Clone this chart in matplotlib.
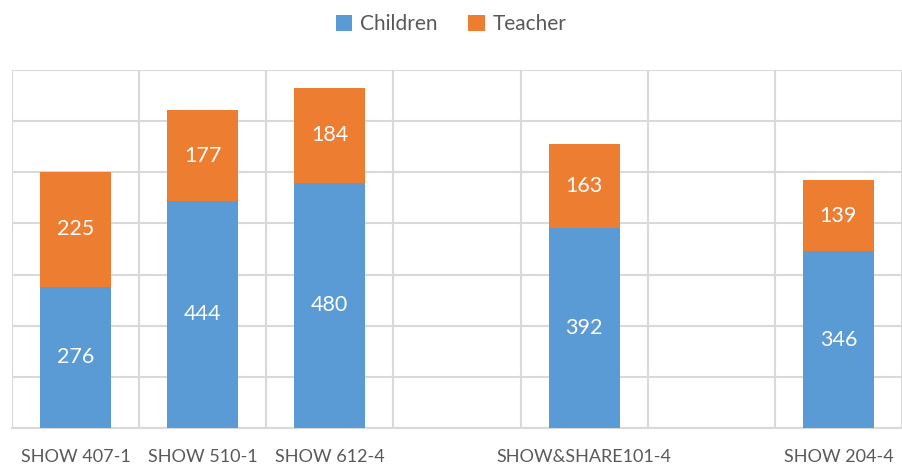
import numpy as np
import matplotlib.pyplot as plt

# Categories (blank slots are empty positions in the original chart)
categories = ['SHOW 407-1', 'SHOW 510-1', 'SHOW 612-4', '', 'SHOW&SHARE101-4', '', 'SHOW 204-4']
children = [276, 444, 480, np.nan, 392, np.nan, 346]
teacher = [225, 177, 184, np.nan, 163, np.nan, 139]

plt.rcParams['font.family'] = ['Lato', 'DejaVu Sans']

fig = plt.figure(figsize=(9.02, 4.67), dpi=100)
ax = fig.add_axes([12 / 902, 39 / 467, 890 / 902, 358 / 467])

x = np.arange(len(categories))
children_arr = np.array(children, dtype=float)
teacher_arr = np.array(teacher, dtype=float)

b1 = ax.bar(x, children_arr, width=0.56, color='#5b9bd5', label='Children', zorder=3)
b2 = ax.bar(x, teacher_arr, width=0.56, bottom=children_arr, color='#ed7d31', label='Teacher', zorder=3)

for i in range(len(x)):
    if not np.isnan(children_arr[i]):
        ax.text(x[i], children_arr[i] / 2, f'{int(children_arr[i])}', ha='center', va='center',
                color='white', fontsize=15.5, zorder=4)
        ax.text(x[i], children_arr[i] + teacher_arr[i] / 2, f'{int(teacher_arr[i])}', ha='center',
                va='center', color='white', fontsize=15.5, zorder=4)

# last category is cut off by the right edge, as in the original
ax.set_xlim(-0.5, 6.4)
ax.set_ylim(0, 700)
ax.set_yticks(np.arange(0, 701, 100))
ax.set_yticklabels([])
ax.set_xticks(x)
ax.set_xticklabels(categories, fontsize=13, color='#595959')
ax.set_xticks(np.arange(-0.5, 7.0, 1.0), minor=True)
ax.tick_params(axis='both', which='both', length=0, pad=15)

ax.grid(axis='y', which='major', color='#d9d9d9', linewidth=1.5, zorder=0)
ax.grid(axis='x', which='minor', color='#d9d9d9', linewidth=1.5, zorder=0)
for side in ['top', 'right', 'left']:
    ax.spines[side].set_visible(False)
ax.spines['bottom'].set_color('#d9d9d9')
ax.spines['bottom'].set_linewidth(1.5)

fig.legend(handles=[b1, b2], loc='upper center', bbox_to_anchor=(0.5, 1.01), ncol=2, frameon=False,
           fontsize=15, labelcolor='#595959', handlelength=0.8, handleheight=0.8,
           columnspacing=1.5, handletextpad=0.35)

plt.savefig('out.png', dpi=100)
